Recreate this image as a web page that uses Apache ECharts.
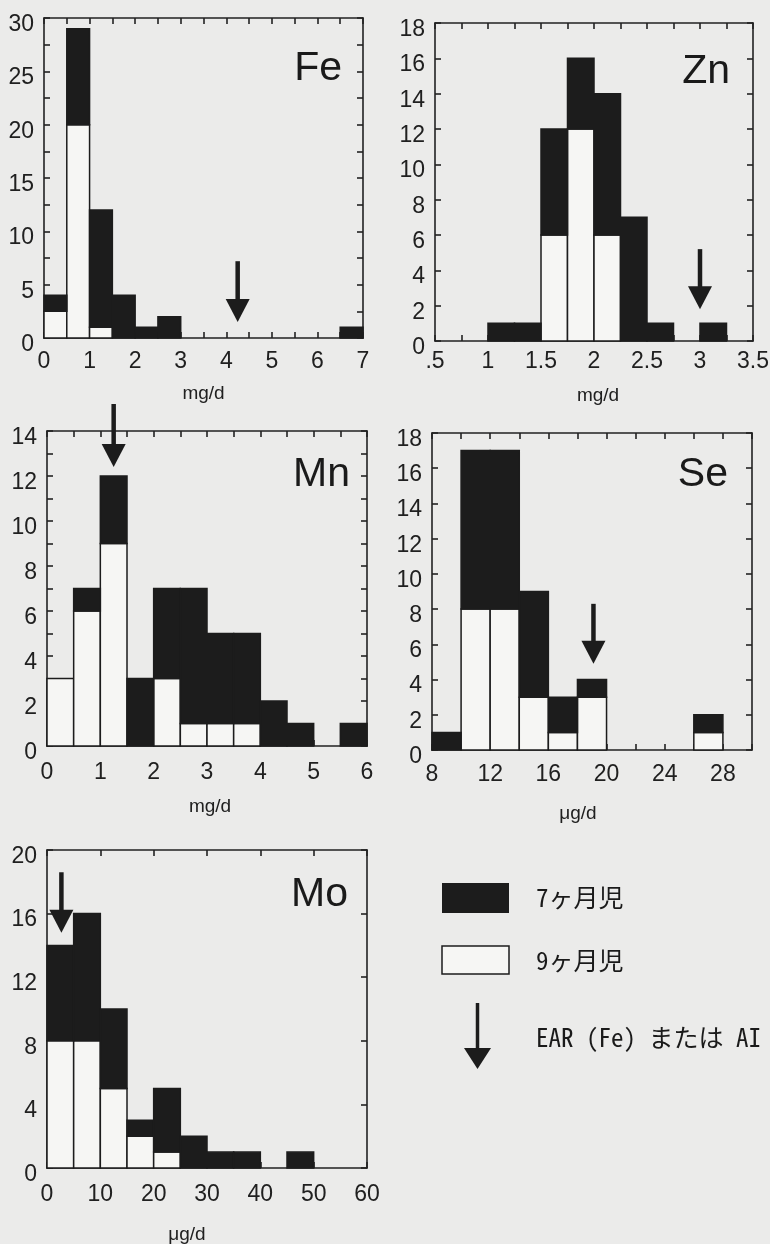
<!DOCTYPE html>
<html>
<head>
<meta charset="utf-8">
<style>
  html, body { margin: 0; padding: 0; background: #ebebea; }
  #chart { width: 770px; height: 1244px; }
</style>
<script src="https://cdn.jsdelivr.net/npm/echarts@6/dist/echarts.min.js"></script>
</head>
<body>
<div id="chart"></div>
<script>
// Histogram bins (lower edges) and counts per bin.
// 9-month infants are drawn white at the bottom, 7-month infants black on top.
const feEdges = [0, 0.5, 1, 1.5, 2, 2.5, 6.5];
const fe9m = [2.5, 20, 1, 0, 0, 0, 0];
const fe7m = [1.5, 9, 11, 4, 1, 2, 1];

const znEdges = [1, 1.25, 1.5, 1.75, 2, 2.25, 2.5, 3];
const zn9m = [0, 0, 6, 12, 6, 0, 0, 0];
const zn7m = [1, 1, 6, 4, 8, 7, 1, 1];

const mnEdges = [0, 0.5, 1, 1.5, 2, 2.5, 3, 3.5, 4, 4.5, 5.5];
const mn9m = [3, 6, 9, 0, 3, 1, 1, 1, 0, 0, 0];
const mn7m = [0, 1, 3, 3, 4, 6, 4, 4, 2, 1, 1];

const seEdges = [8, 10, 12, 14, 16, 18, 26];
const se9m = [0, 8, 8, 3, 1, 3, 1];
const se7m = [1, 9, 9, 6, 2, 1, 1];

const moEdges = [0, 5, 10, 15, 20, 25, 30, 35, 45];
const mo9m = [8, 8, 5, 2, 1, 0, 0, 0, 0];
const mo7m = [6, 8, 5, 1, 4, 2, 1, 1, 1];

// Reference intake arrows: [x, top of shaft, tip] in data units
const feArrow = [4.25, 7.2, 1.5];
const znArrow = [3.0, 5.2, 1.8];
const mnArrow = [1.25, 15.2, 12.4];
const seArrow = [19.1, 8.3, 4.9];
const moArrow = [2.7, 18.6, 14.8];

// Labelled tick values
const feXTicks = [0, 1, 2, 3, 4, 5, 6, 7];
const feYTicks = [0, 5, 10, 15, 20, 25, 30];
const znXTicks = [0.5, 1, 1.5, 2, 2.5, 3, 3.5];
const znXText = ['.5', '1', '1.5', '2', '2.5', '3', '3.5'];
const znYTicks = [0, 2, 4, 6, 8, 10, 12, 14, 16, 18];
const mnXTicks = [0, 1, 2, 3, 4, 5, 6];
const mnYTicks = [0, 2, 4, 6, 8, 10, 12, 14];
const seXTicks = [8, 12, 16, 20, 24, 28];
const seYTicks = [0, 2, 4, 6, 8, 10, 12, 14, 16, 18];
const moXTicks = [0, 10, 20, 30, 40, 50, 60];
const moYTicks = [0, 4, 8, 12, 16, 20];

const legendNames = ['7ヶ月児', '9ヶ月児', 'EAR (Fe) または AI'];

const FONT_NUM = "'Liberation Sans Narrow', 'Liberation Sans', Arial, sans-serif";
const FONT_TXT = "'Liberation Sans', Arial, sans-serif";
const FONT_JP = "'Noto Sans Mono CJK JP', 'Noto Sans CJK JP', sans-serif";
const INK = '#1c1c1c';
const PAPER = '#f6f6f4';

const panels = [
  { title: 'Fe', edges: feEdges, w: 0.5, n9: fe9m, n7: fe7m, arrow: feArrow,
    grid: { left: 44, top: 18, width: 319, height: 320 }, titlePos: [342, 69],
    x: { min: 0, max: 7, step: 0.5, ticks: feXTicks, margin: 12, name: 'mg/d', nameGap: 46, shift: 0 },
    y: { min: 0, max: 30, step: 2.5, ticks: feYTicks } },
  { title: 'Zn', edges: znEdges, w: 0.25, n9: zn9m, n7: zn7m, arrow: znArrow,
    grid: { left: 435, top: 23, width: 318, height: 318 }, titlePos: [730, 72],
    x: { min: 0.5, max: 3.5, step: 0.25, ticks: znXTicks, text: znXText, margin: 9, name: 'mg/d', nameGap: 45, shift: 4 },
    y: { min: 0, max: 18, step: 2, ticks: znYTicks } },
  { title: 'Mn', edges: mnEdges, w: 0.5, n9: mn9m, n7: mn7m, arrow: mnArrow,
    grid: { left: 47, top: 431, width: 320, height: 315 }, titlePos: [350, 475],
    x: { min: 0, max: 6, step: 0.5, ticks: mnXTicks, margin: 15, name: 'mg/d', nameGap: 51, shift: 3 },
    y: { min: 0, max: 14, step: 1, ticks: mnYTicks } },
  { title: 'Se', edges: seEdges, w: 2, n9: se9m, n7: se7m, arrow: seArrow,
    grid: { left: 432, top: 433, width: 320, height: 317 }, titlePos: [728, 475],
    x: { min: 8, max: 30, step: 2, ticks: seXTicks, margin: 13, name: 'μg/d', nameGap: 54, shift: -14 },
    y: { min: 0, max: 18, step: 2, ticks: seYTicks } },
  { title: 'Mo', edges: moEdges, w: 5, n9: mo9m, n7: mo7m, arrow: moArrow,
    grid: { left: 47, top: 850, width: 320, height: 318 }, titlePos: [348, 895],
    x: { min: 0, max: 60, step: 10, ticks: moXTicks, margin: 15, name: 'μg/d', nameGap: 57, shift: -20 },
    y: { min: 0, max: 20, step: 4, ticks: moYTicks } }
];

function tickFormatter(ticks, text) {
  return function (v) {
    const i = ticks.findIndex(t => Math.abs(t - v) < 1e-6);
    if (i < 0) return '';
    return text ? text[i] : String(ticks[i]);
  };
}

const frameLine = { color: '#222222', width: 1.6 };
const grids = [], xAxes = [], yAxes = [], series = [], graphics = [];

panels.forEach((p, i) => {
  grids.push(Object.assign({ containLabel: false, outerBoundsMode: 'none' }, p.grid));

  const common = (a) => ({
    type: 'value', gridIndex: i, min: a.min, max: a.max, interval: a.step,
    splitLine: { show: false },
    axisLine: { onZero: false, lineStyle: frameLine },
    axisTick: { inside: true, length: 6, lineStyle: frameLine }
  });

  // bottom x axis with labels and unit name
  xAxes.push(Object.assign(common(p.x), {
    position: 'bottom',
    axisLabel: { margin: p.x.margin, formatter: tickFormatter(p.x.ticks, p.x.text),
      fontSize: 23, fontFamily: FONT_NUM, color: '#202020', showMinLabel: true, showMaxLabel: true },
    name: p.x.name, nameLocation: 'middle', nameGap: p.x.nameGap,
    nameTextStyle: { fontSize: 19, fontFamily: FONT_TXT, color: '#202020',
      padding: p.x.shift < 0 ? [0, -2 * p.x.shift, 0, 0] : [0, 0, 0, 2 * p.x.shift] }
  }));
  // top frame edge with ticks
  xAxes.push(Object.assign(common(p.x), { position: 'top', axisLabel: { show: false } }));

  // left y axis with labels, set slightly below their ticks
  yAxes.push(Object.assign(common(p.y), {
    position: 'left',
    axisLabel: { margin: 10, formatter: tickFormatter(p.y.ticks), verticalAlign: 'top', lineHeight: 13,
      fontSize: 23, fontFamily: FONT_NUM, color: '#202020', showMinLabel: true, showMaxLabel: true }
  }));
  // right frame edge with ticks
  yAxes.push(Object.assign(common(p.y), { position: 'right', axisLabel: { show: false } }));

  const xi = 2 * i, yi = 2 * i;
  const rectItem = (fill) => function (params, api) {
    const a = api.coord([api.value(0), api.value(2)]);
    const b = api.coord([api.value(1), api.value(3)]);
    return {
      type: 'rect',
      shape: { x: a[0], y: b[1], width: b[0] - a[0], height: a[1] - b[1] },
      style: { fill: fill, stroke: INK, lineWidth: 1.5 }
    };
  };

  const white = p.edges.map((e, j) => [e, e + p.w, 0, p.n9[j]]).filter(d => d[3] > 0);
  const black = p.edges.map((e, j) => [e, e + p.w, p.n9[j], p.n9[j] + p.n7[j]]).filter(d => d[3] > d[2]);

  series.push({
    type: 'custom', name: legendNames[1], xAxisIndex: xi, yAxisIndex: yi, z: 2, silent: true,
    encode: { x: [0, 1], y: [2, 3] }, data: white, renderItem: rectItem(PAPER)
  });
  series.push({
    type: 'custom', name: legendNames[0], xAxisIndex: xi, yAxisIndex: yi, z: 2, silent: true,
    encode: { x: [0, 1], y: [2, 3] }, data: black, renderItem: rectItem(INK)
  });
  series.push({
    type: 'custom', name: legendNames[2], xAxisIndex: xi, yAxisIndex: yi, z: 3, silent: true, clip: false,
    encode: { x: 0, y: [1, 2] }, data: [p.arrow],
    renderItem: function (params, api) {
      const top = api.coord([api.value(0), api.value(1)]);
      const tip = api.coord([api.value(0), api.value(2)]);
      const headH = 23, headW = 24;
      return {
        type: 'group',
        children: [
          { type: 'line', shape: { x1: top[0], y1: top[1], x2: tip[0], y2: tip[1] - headH + 2 },
            style: { stroke: INK, lineWidth: 4.5 } },
          { type: 'polygon',
            shape: { points: [[tip[0] - headW / 2, tip[1] - headH], [tip[0] + headW / 2, tip[1] - headH], [tip[0], tip[1]]] },
            style: { fill: INK } }
        ]
      };
    }
  });

  graphics.push({
    type: 'text', x: p.titlePos[0], y: p.titlePos[1], z: 10,
    style: { text: p.title, fontSize: 41, fontFamily: FONT_TXT, fill: '#1a1a1a', align: 'right', verticalAlign: 'middle' }
  });
});

// Legend
graphics.push(
  { type: 'rect', shape: { x: 442, y: 883, width: 67, height: 30 }, style: { fill: INK } },
  { type: 'rect', shape: { x: 442, y: 946, width: 67, height: 28 }, style: { fill: PAPER, stroke: INK, lineWidth: 1.5 } },
  { type: 'text', x: 536, y: 897, style: { text: legendNames[0], fontSize: 25, fontFamily: FONT_JP, fill: '#1a1a1a', verticalAlign: 'middle' } },
  { type: 'text', x: 536, y: 960, style: { text: legendNames[1], fontSize: 25, fontFamily: FONT_JP, fill: '#1a1a1a', verticalAlign: 'middle' } },
  { type: 'line', shape: { x1: 477.5, y1: 1003, x2: 477.5, y2: 1050 }, style: { stroke: INK, lineWidth: 3.5 } },
  { type: 'polygon', shape: { points: [[464, 1048], [491, 1048], [477.5, 1069]] }, style: { fill: INK } },
  { type: 'text', x: 536, y: 1037, style: { text: legendNames[2], fontSize: 25, fontFamily: FONT_JP, fill: '#1a1a1a', verticalAlign: 'middle' } }
);

const chart = echarts.init(document.getElementById('chart'), null, { renderer: 'canvas' });
chart.setOption({
  backgroundColor: '#ebebea',
  animation: false,
  grid: grids,
  xAxis: xAxes,
  yAxis: yAxes,
  series: series,
  graphic: { elements: graphics }
});
</script>
</body>
</html>
